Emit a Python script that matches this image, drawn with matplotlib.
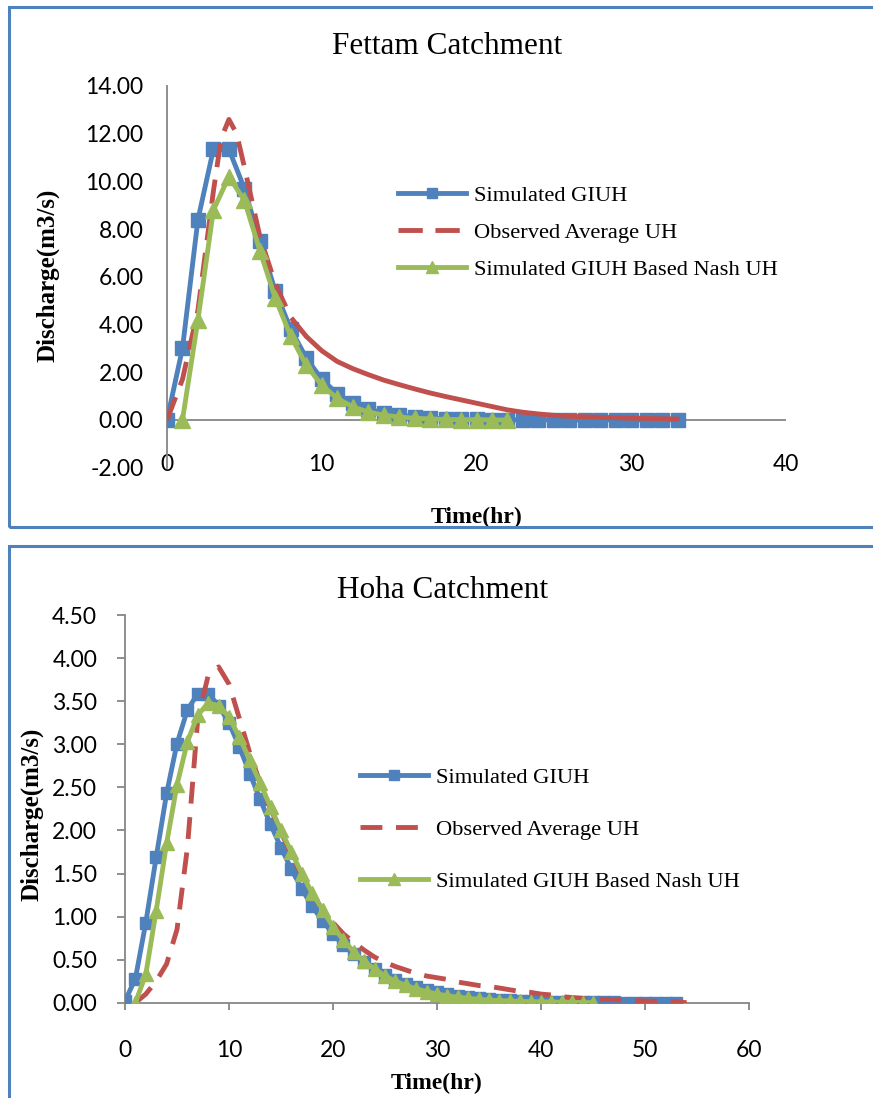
import matplotlib
matplotlib.use("Agg")
import matplotlib.pyplot as plt
from matplotlib.patches import Rectangle
from matplotlib.ticker import FormatStrFormatter

# Fettam catchment (top)
fettam_t_giuh = list(range(0, 34))
fettam_giuh = [0.0, 3.0, 8.4, 11.35, 11.35, 9.7, 7.5, 5.4, 3.8, 2.6, 1.7, 1.1, 0.7, 0.45,
               0.3, 0.2, 0.13, 0.08, 0.05, 0.03, 0.02, 0.01, 0.01,
               0.0, 0.0, 0.0, 0.0, 0.0, 0.0, 0.0, 0.0, 0.0, 0.0, 0.0]
fettam_t_nash = list(range(1, 23))
fettam_nash = [0.0, 4.2, 8.8, 10.2, 9.2, 7.1, 5.1, 3.5, 2.3, 1.45, 0.9, 0.55, 0.33, 0.2,
               0.12, 0.07, 0.04, 0.02, 0.01, 0.01, 0.0, 0.0]
fettam_t_obs = [0, 1, 2, 3, 3.5, 4, 4.5, 5] + list(range(6, 34))
fettam_obs = [0.0, 1.7, 4.6, 9.6, 11.8, 12.6, 12.0, 10.6,
              7.7, 5.7, 4.3, 3.5, 2.9, 2.45, 2.15, 1.9, 1.67, 1.48, 1.3, 1.13, 0.98,
              0.84, 0.7, 0.56, 0.42, 0.32, 0.25, 0.19, 0.15, 0.13, 0.11, 0.09, 0.07,
              0.06, 0.05, 0.04]

# Hoha catchment (bottom)
hoha_t_giuh = list(range(0, 54))
hoha_giuh = [0.02, 0.28, 0.93, 1.69, 2.43, 3.01, 3.40, 3.59, 3.59, 3.45, 3.25, 2.97, 2.66,
             2.36, 2.07, 1.80, 1.55, 1.32, 1.12, 0.95, 0.80, 0.67, 0.56, 0.47, 0.39, 0.32,
             0.26, 0.22, 0.18, 0.15, 0.12, 0.10, 0.08, 0.065, 0.053, 0.043, 0.035, 0.028,
             0.023, 0.018, 0.015, 0.012, 0.01, 0.008, 0.006, 0.005, 0.004, 0.003, 0.002,
             0.002, 0.001, 0.001, 0.0, 0.0]
hoha_t_nash = list(range(1, 46))
hoha_nash = [0.0, 0.33, 1.07, 1.85, 2.53, 3.03, 3.34, 3.48, 3.45, 3.32, 3.08, 2.82, 2.55,
             2.27, 2.0, 1.75, 1.5, 1.27, 1.08, 0.88, 0.73, 0.59, 0.48, 0.39, 0.31, 0.25,
             0.20, 0.16, 0.13, 0.10, 0.08, 0.065, 0.05, 0.04, 0.03, 0.025, 0.02, 0.015,
             0.012, 0.01, 0.008, 0.006, 0.004, 0.002, 0.0]
hoha_t_obs = list(range(1, 55))
hoha_obs = [0.0, 0.1, 0.25, 0.45, 0.85, 1.8, 3.3, 3.8, 3.9, 3.7, 3.3, 2.9, 2.55, 2.25,
            1.98, 1.72, 1.48, 1.27, 1.08, 0.93, 0.8, 0.7, 0.61, 0.53, 0.47, 0.42, 0.38,
            0.34, 0.31, 0.29, 0.27, 0.24, 0.22, 0.2, 0.19, 0.17, 0.15, 0.13, 0.12, 0.1,
            0.09, 0.07, 0.06, 0.05, 0.045, 0.04, 0.035, 0.03, 0.025, 0.02, 0.015, 0.01,
            0.01, 0.0]

labels = ["Simulated GIUH", "Observed Average UH", "Simulated GIUH Based Nash UH"]
blue, red, green = "#4F81BD", "#C0504D", "#9BBB59"
grey = "#868686"
serif = "Liberation Serif"
tickfont = "Lato"

fig = plt.figure(figsize=(8.73, 10.98), dpi=100)

# panel frames
fig.patches.append(Rectangle((9 / 873, 1 - 527 / 1098), 1.2, 520 / 1098, transform=fig.transFigure,
                             fill=False, edgecolor=blue, lw=2.2, clip_on=False))
fig.patches.append(Rectangle((9 / 873, -0.2), 1.2, 0.2 + 1 - 546 / 1098, transform=fig.transFigure,
                             fill=False, edgecolor=blue, lw=2.2, clip_on=False))


def style_axes(ax):
    for s in ["top", "right"]:
        ax.spines[s].set_visible(False)
    ax.spines["left"].set_color(grey)
    ax.spines["left"].set_linewidth(1.3)
    ax.spines["bottom"].set_color(grey)
    ax.spines["bottom"].set_linewidth(1.3)
    ax.yaxis.set_major_formatter(FormatStrFormatter("%.2f"))
    for lab in ax.get_xticklabels() + ax.get_yticklabels():
        lab.set_fontfamily(tickfont)
        lab.set_fontsize(16.5)


# ---------- top: Fettam ----------
ax1 = fig.add_axes([167 / 873, 1 - 467.6 / 1098, (786 - 167) / 873, (467.6 - 86) / 1098])
ax1.plot(fettam_t_giuh, fettam_giuh, color=blue, lw=3.5, marker="s", ms=10.5,
         label=labels[0], zorder=3)
split = fettam_t_obs.index(9)
ax1.plot(fettam_t_obs[:split + 1], fettam_obs[:split + 1], color=red, lw=3.5,
         dashes=(5, 2.6), label=labels[1], zorder=4)
ax1.plot(fettam_t_obs[split:], fettam_obs[split:], color=red, lw=3.5, zorder=4,
         solid_capstyle="round")
ax1.plot(fettam_t_nash, fettam_nash, color=green, lw=3.5, marker="^", ms=12,
         label=labels[2], zorder=5)
ax1.set_xlim(0, 40)
ax1.set_ylim(-2, 14)
ax1.set_xticks(range(0, 41, 10))
ax1.set_yticks(range(-2, 15, 2))
ax1.spines["bottom"].set_visible(False)
ax1.axhline(0, color=grey, lw=1.3, zorder=1)
ax1.tick_params(axis="y", length=0, pad=17)
ax1.tick_params(axis="x", length=0, pad=-10)
style_axes(ax1)
ax1.set_xlabel("Time(hr)", fontfamily=serif, fontweight="bold", fontsize=17)
ax1.xaxis.set_label_coords(0.5, -0.102)
ax1.set_ylabel("Discharge(m3/s)", fontfamily=serif, fontweight="bold", fontsize=18)
ax1.yaxis.set_label_coords(-0.173, 0.505)
ax1.legend(loc="upper left", bbox_to_anchor=(398 / 873, 1 - 185 / 1098),
           bbox_transform=fig.transFigure, frameon=False, prop={"family": serif, "size": 16.2},
           handlelength=3.0, handletextpad=0.4, labelspacing=0.72, borderpad=0,
           borderaxespad=0, markerscale=0.75)
fig.text(447 / 873, 1 - 46 / 1098, "Fettam Catchment", ha="center", va="center",
         fontfamily=serif, fontsize=22.5)

# ---------- bottom: Hoha ----------
ax2 = fig.add_axes([125 / 873, 1 - 1002.7 / 1098, (749 - 125) / 873, (1002.7 - 615.2) / 1098])
ax2.plot(hoha_t_giuh, hoha_giuh, color=blue, lw=3.5, marker="s", ms=8.5,
         label=labels[0], zorder=3)
ax2.plot(hoha_t_obs, hoha_obs, color=red, lw=3.5, dashes=(4.5, 2.8), label=labels[1], zorder=4)
ax2.plot(hoha_t_nash, hoha_nash, color=green, lw=3.5, marker="^", ms=10,
         label=labels[2], zorder=5)
ax2.set_xlim(0, 60)
ax2.set_ylim(0, 4.5)
ax2.set_xticks(range(0, 61, 10))
ax2.set_yticks([i * 0.5 for i in range(10)])
ax2.tick_params(axis="y", length=6, width=1.3, color=grey, pad=14)
ax2.tick_params(axis="x", length=5, width=1.3, color=grey, pad=22)
style_axes(ax2)
ax2.set_xlabel("Time(hr)", fontfamily=serif, fontweight="bold", fontsize=17)
ax2.xaxis.set_label_coords(0.5, -0.18)
ax2.set_ylabel("Discharge(m3/s)", fontfamily=serif, fontweight="bold", fontsize=18)
ax2.yaxis.set_label_coords(-0.131, 0.485)
ax2.legend(loc="upper left", bbox_to_anchor=(360 / 873, 1 - 767 / 1098),
           bbox_transform=fig.transFigure, frameon=False, prop={"family": serif, "size": 16.2},
           handlelength=3.0, handletextpad=0.4, labelspacing=1.4, borderpad=0,
           borderaxespad=0, markerscale=0.85)
fig.text(443 / 873, 1 - 590 / 1098, "Hoha Catchment", ha="center", va="center",
         fontfamily=serif, fontsize=22.5)

fig.savefig("out.png", dpi=100)
